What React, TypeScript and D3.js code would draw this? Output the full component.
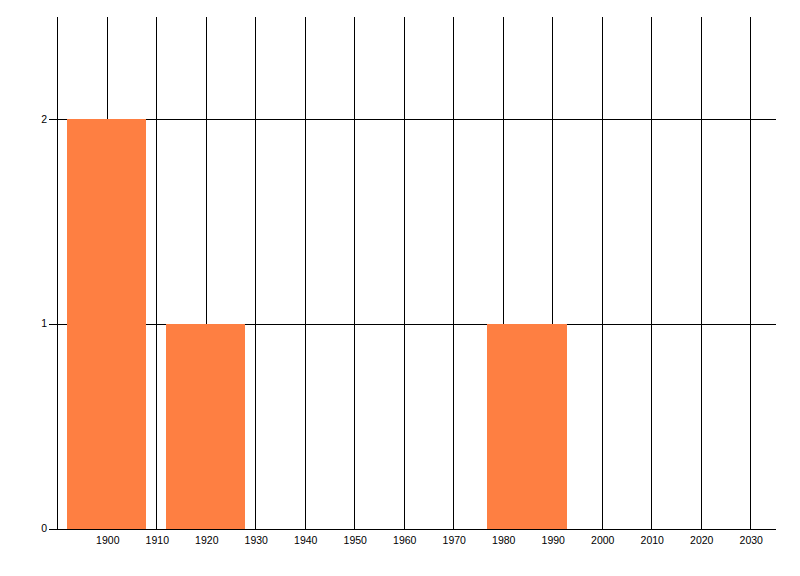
import { useEffect, useRef } from 'react';
import * as d3 from 'd3';

// bar centres (years) and counts
const years = [1900, 1920, 1985];
const counts = [2, 1, 1];
const xTicks = [1900, 1910, 1920, 1930, 1940, 1950, 1960, 1970, 1980, 1990, 2000, 2010, 2020, 2030];
const xGrid = [1890, 1900, 1910, 1920, 1930, 1940, 1950, 1960, 1970, 1980, 1990, 2000, 2010, 2020, 2030];
const yTicks = [0, 1, 2];

const BAR_YEARS = 16;

export default function App() {
  const svgRef = useRef<SVGSVGElement>(null);

  useEffect(() => {
    if (!svgRef.current) return;
    document.body.style.margin = '0';
    const svg = d3.select(svgRef.current);
    svg.selectAll('*').remove();

    const left = 57.3;
    const right = 776;
    const top = 17;
    const bottom = 528.5;

    const x = d3.scaleLinear().domain([1890, 2035.2]).range([left, right]);
    const y = d3.scaleLinear().domain([0, 2.5]).range([bottom, top]);

    const g = svg.append('g').attr('shape-rendering', 'crispEdges');

    // vertical grid
    g.selectAll('.vgrid')
      .data(xGrid)
      .enter()
      .append('line')
      .attr('x1', (d) => Math.round(x(d)) + 0.5)
      .attr('x2', (d) => Math.round(x(d)) + 0.5)
      .attr('y1', top)
      .attr('y2', bottom)
      .attr('stroke', '#000');

    // horizontal grid incl. tick
    g.selectAll('.hgrid')
      .data(yTicks.filter((d) => d > 0))
      .enter()
      .append('line')
      .attr('x1', left - 8)
      .attr('x2', right)
      .attr('y1', (d) => Math.round(y(d)) + 0.5)
      .attr('y2', (d) => Math.round(y(d)) + 0.5)
      .attr('stroke', '#000');

    // bars
    g.selectAll('.bar')
      .data(years)
      .enter()
      .append('rect')
      .attr('x', (d) => Math.floor(x(d - BAR_YEARS / 2)))
      .attr('width', (d) => Math.floor(x(d + BAR_YEARS / 2)) - Math.floor(x(d - BAR_YEARS / 2)))
      .attr('y', (_d, i) => Math.round(y(counts[i])))
      .attr('height', (_d, i) => bottom - Math.round(y(counts[i])))
      .attr('fill', '#FE7F42');

    // axes
    g.append('line')
      .attr('x1', Math.round(left) + 0.5)
      .attr('x2', Math.round(left) + 0.5)
      .attr('y1', top)
      .attr('y2', bottom)
      .attr('stroke', '#000');
    g.append('line')
      .attr('x1', left - 8)
      .attr('x2', right)
      .attr('y1', Math.round(bottom) + 0.5)
      .attr('y2', Math.round(bottom) + 0.5)
      .attr('stroke', '#000');

    // labels
    svg
      .selectAll('.xlab')
      .data(xTicks)
      .enter()
      .append('text')
      .attr('x', (d) => x(d) + 1)
      .attr('y', 544)
      .attr('text-anchor', 'middle')
      .style('font-family', 'Liberation Sans, Arial, sans-serif')
      .style('font-size', '10.5px')
      .attr('fill', '#000')
      .text((d) => d);

    svg
      .selectAll('.ylab')
      .data(yTicks)
      .enter()
      .append('text')
      .attr('x', 47)
      .attr('y', (d) => y(d) + 3.5)
      .attr('text-anchor', 'end')
      .style('font-family', 'Liberation Sans, Arial, sans-serif')
      .style('font-size', '10.5px')
      .attr('fill', '#000')
      .text((d) => d);
  }, []);

  return <svg ref={svgRef} width={800} height={576} style={{ display: 'block', background: '#fff' }} />;
}
